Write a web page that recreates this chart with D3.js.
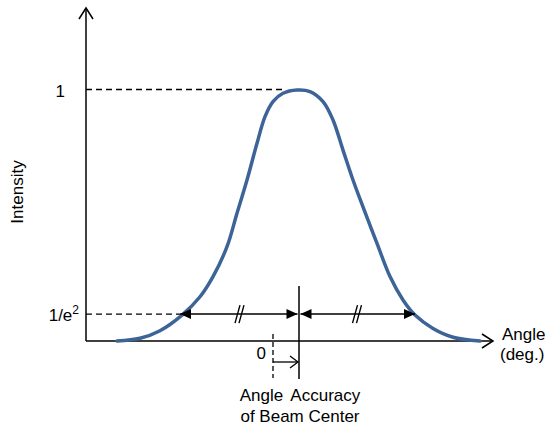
<!DOCTYPE html>
<html>
<head>
<meta charset="utf-8">
<script src="https://cdn.jsdelivr.net/npm/d3@7"></script>
<style>
  body { margin: 0; background: #fff; }
  svg { display: block; font-family: "Liberation Sans", Arial, sans-serif; }
</style>
</head>
<body>
<svg id="chart" width="548" height="427"></svg>
<script>
// beam profile (angle in arbitrary units, centre = 0)
const angles = [-18.2, -15.9, -13.9, -11.7, -9.9, -8.6, -7.2, -6.2, -5.2, -4.2, -3.4, -2.6, -1.6, -0.2,
  1.1, 2.4, 3.4, 4.4, 5.4, 6.4, 7.8, 9.1, 10.4, 11.6, 13.4, 15.4, 18.1];
const intensity = [0, 0.011, 0.041, 0.103, 0.176, 0.256, 0.375, 0.508, 0.64, 0.786, 0.892, 0.952, 0.985, 0.998,
  0.992, 0.952, 0.879, 0.759, 0.64, 0.533, 0.388, 0.256, 0.163, 0.103, 0.05, 0.015, 0];

const peakLevel = 1;
const edgeLevel = 0.107;         // the 1/e^2 line
const edgeAngles = [-11.9, 11.6]; // width arrows
const centerAngle = 0;
const zeroAngle = -2.6;
const yTickLabels = ['1', '1/e'];

const svg = d3.select('#chart');

const x = d3.scaleLinear().domain([-21.3, 19.4]).range([86, 493]);
const y = d3.scaleLinear().domain([0, 1]).range([341, 89.5]);
const yTop = 8;
const fs = 17;

const ink = '#000';

// axes
svg.append('line')
  .attr('x1', x(-21.3)).attr('x2', x(-21.3))
  .attr('y1', y(0)).attr('y2', yTop)
  .attr('stroke', ink).attr('stroke-width', 1.5);
svg.append('path')
  .attr('d', `M${x(-21.3) - 7},${yTop + 11}L${x(-21.3)},${yTop}L${x(-21.3) + 7},${yTop + 11}`)
  .attr('fill', 'none').attr('stroke', ink).attr('stroke-width', 1.5);

svg.append('line')
  .attr('x1', x(-21.3)).attr('x2', x(19.4))
  .attr('y1', y(0)).attr('y2', y(0))
  .attr('stroke', ink).attr('stroke-width', 1.5);
svg.append('path')
  .attr('d', `M${x(19.4) - 11},${y(0) - 7}L${x(19.4)},${y(0)}L${x(19.4) - 11},${y(0) + 7}`)
  .attr('fill', 'none').attr('stroke', ink).attr('stroke-width', 1.5);

// dashed guides
svg.append('line')
  .attr('x1', x(-21.3)).attr('x2', x(-1.6))
  .attr('y1', y(peakLevel)).attr('y2', y(peakLevel))
  .attr('stroke', ink).attr('stroke-width', 1.3).attr('stroke-dasharray', '6,4');
svg.append('line')
  .attr('x1', x(-21.3)).attr('x2', x(edgeAngles[0]))
  .attr('y1', y(edgeLevel)).attr('y2', y(edgeLevel))
  .attr('stroke', ink).attr('stroke-width', 1.3).attr('stroke-dasharray', '6,4');

// y labels
svg.append('text')
  .attr('x', 65).attr('y', y(peakLevel) + 7)
  .attr('text-anchor', 'end').attr('font-size', fs).text(yTickLabels[0]);
const eLab = svg.append('text')
  .attr('x', 79).attr('y', y(edgeLevel) + 7)
  .attr('text-anchor', 'end').attr('font-size', fs);
eLab.append('tspan').text(yTickLabels[1]);
eLab.append('tspan').attr('font-size', 12).attr('dy', -7).text('2');

svg.append('text')
  .attr('transform', `translate(23,${192}) rotate(-90)`)
  .attr('text-anchor', 'middle').attr('font-size', fs).text('Intensity');

// x label
svg.append('text').attr('x', 502).attr('y', 340).attr('font-size', fs).text('Angle');
svg.append('text').attr('x', 500).attr('y', 360).attr('font-size', fs).text('(deg.)');

// the beam
const pts = angles.map((a, i) => [a, intensity[i]]);
svg.append('path')
  .datum(pts)
  .attr('d', d3.line().x(d => x(d[0])).y(d => y(d[1])).curve(d3.curveCatmullRom.alpha(0.5)))
  .attr('fill', 'none')
  .attr('stroke', '#3c6496')
  .attr('stroke-width', 3.5)
  .attr('stroke-linecap', 'round');

// beam centre line
svg.append('line')
  .attr('x1', x(centerAngle)).attr('x2', x(centerAngle))
  .attr('y1', 286).attr('y2', 379)
  .attr('stroke', ink).attr('stroke-width', 1.5);

// width arrows
const head = (xt, yt, dir) => {
  // filled triangle pointing in dir (+1 right, -1 left)
  svg.append('path')
    .attr('d', `M${xt},${yt}L${xt - dir * 11},${yt - 5}L${xt - dir * 11},${yt + 5}Z`)
    .attr('fill', ink);
};
const yEdge = y(edgeLevel);
[[edgeAngles[0], centerAngle], [centerAngle, edgeAngles[1]]].forEach(([a0, a1], k) => {
  const x0 = x(a0) + (k === 1 ? 1.5 : 0);
  const x1 = x(a1) - (k === 0 ? 1.5 : 0);
  svg.append('line')
    .attr('x1', x0).attr('x2', x1)
    .attr('y1', yEdge).attr('y2', yEdge)
    .attr('stroke', ink).attr('stroke-width', 1.5);
  head(x0, yEdge, -1);
  head(x1, yEdge, 1);
  // break marks
  const xm = (x(a0) + x(a1)) / 2;
  [-2, 2].forEach(off => {
    svg.append('line')
      .attr('x1', xm + off - 2.5).attr('x2', xm + off + 2.5)
      .attr('y1', yEdge + 9).attr('y2', yEdge - 9)
      .attr('stroke', ink).attr('stroke-width', 1.4);
  });
});

// zero reference + offset arrow
svg.append('line')
  .attr('x1', x(zeroAngle)).attr('x2', x(zeroAngle))
  .attr('y1', 334).attr('y2', 378)
  .attr('stroke', ink).attr('stroke-width', 1.3).attr('stroke-dasharray', '5,3');
svg.append('text')
  .attr('x', x(zeroAngle) - 7).attr('y', 359)
  .attr('text-anchor', 'end').attr('font-size', fs).text('0');
svg.append('line')
  .attr('x1', x(zeroAngle)).attr('x2', x(centerAngle) - 1)
  .attr('y1', 362).attr('y2', 362)
  .attr('stroke', ink).attr('stroke-width', 1.3);
svg.append('path')
  .attr('d', `M${x(centerAngle) - 9},${356}L${x(centerAngle) - 1},${362}L${x(centerAngle) - 9},${368}`)
  .attr('fill', 'none').attr('stroke', ink).attr('stroke-width', 1.3);

svg.append('text')
  .attr('x', x(centerAngle) + 1).attr('y', 401)
  .attr('text-anchor', 'middle').attr('font-size', fs).text('Angle\u2009 Accuracy');
svg.append('text')
  .attr('x', x(centerAngle) + 1).attr('y', 422)
  .attr('text-anchor', 'middle').attr('font-size', fs).text('of Beam Center');
</script>
</body>
</html>
